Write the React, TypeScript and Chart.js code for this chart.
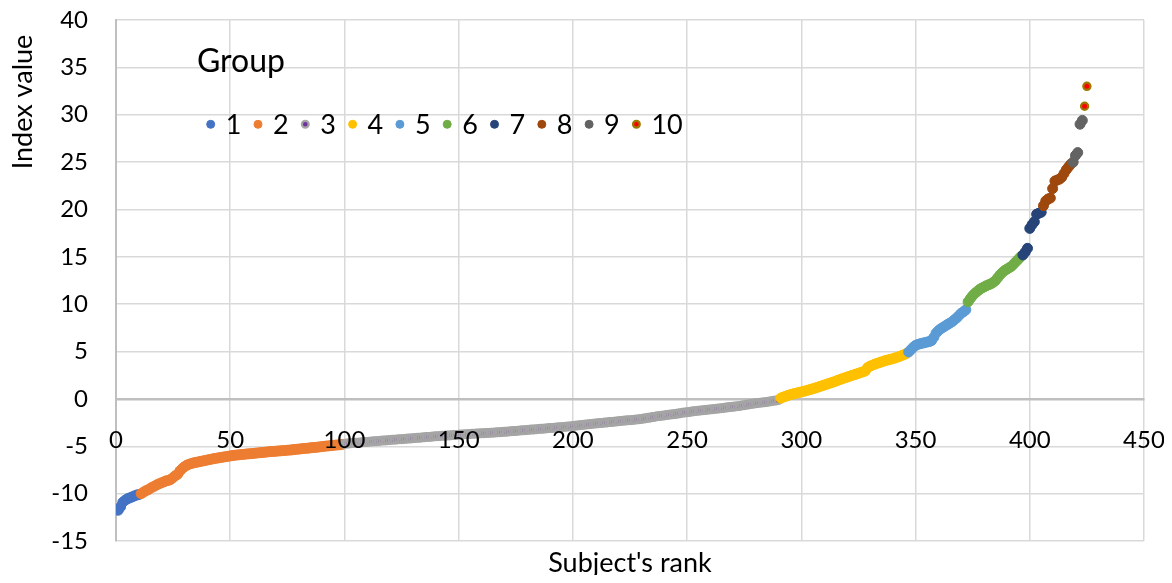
import React, { useEffect, useRef } from "react";
import { Chart, registerables } from "chart.js";

Chart.register(...registerables);

const FONT = "Lato, 'Open Sans', sans-serif";

const xAxisTitle = "Subject's rank";
const yAxisTitle = "Index value";
const legendTitle = "Group";
const groupLabels = ["1", "2", "3", "4", "5", "6", "7", "8", "9", "10"];
const xTickValues = [0, 50, 100, 150, 200, 250, 300, 350, 400, 450];
const yTickValues = [-15, -10, -5, 0, 5, 10, 15, 20, 25, 30, 35, 40];

const group1Values = [-11.75, -11.4, -10.9, -10.7, -10.55, -10.45, -10.35, -10.25, -10.15, -10.1];
const group2Values = [
  -10.0, -9.85, -9.7, -9.6, -9.45, -9.3, -9.2, -9.05, -8.95, -8.85,
  -8.75, -8.65, -8.6, -8.5, -8.3, -8.1, -7.95, -7.6, -7.35, -7.15,
  -7.0, -6.9, -6.82, -6.75, -6.7, -6.65, -6.6, -6.55, -6.5, -6.45,
  -6.4, -6.35, -6.3, -6.26, -6.22, -6.18, -6.14, -6.1, -6.06, -6.02,
  -5.98, -5.95, -5.92, -5.9, -5.87, -5.85, -5.82, -5.8, -5.78, -5.75,
  -5.73, -5.7, -5.68, -5.66, -5.64, -5.6, -5.58, -5.56, -5.54, -5.52,
  -5.5, -5.48, -5.46, -5.44, -5.42, -5.4, -5.38, -5.35, -5.32, -5.3,
  -5.27, -5.24, -5.22, -5.2, -5.17, -5.14, -5.12, -5.1, -5.07, -5.04,
  -5.01, -4.98, -4.96, -4.93, -4.9, -4.88, -4.86, -4.84, -4.8,
];
const group3Values = [
  -4.75, -4.72, -4.7, -4.68, -4.66, -4.64, -4.62, -4.6, -4.58, -4.56,
  -4.54, -4.52, -4.5, -4.48, -4.46, -4.44, -4.42, -4.4, -4.38, -4.36,
  -4.34, -4.32, -4.3, -4.28, -4.26, -4.25, -4.23, -4.21, -4.19, -4.17,
  -4.15, -4.13, -4.11, -4.09, -4.07, -4.05, -4.03, -4.01, -3.99, -3.97,
  -3.95, -3.93, -3.91, -3.9, -3.88, -3.86, -3.85, -3.83, -3.82, -3.8,
  -3.78, -3.77, -3.75, -3.74, -3.72, -3.71, -3.69, -3.68, -3.66, -3.65,
  -3.63, -3.62, -3.6, -3.59, -3.57, -3.56, -3.54, -3.53, -3.51, -3.5,
  -3.48, -3.46, -3.44, -3.42, -3.4, -3.38, -3.36, -3.34, -3.32, -3.3,
  -3.28, -3.26, -3.24, -3.22, -3.2, -3.18, -3.16, -3.14, -3.12, -3.1,
  -3.08, -3.06, -3.04, -3.02, -3.0, -2.98, -2.96, -2.94, -2.92, -2.9,
  -2.87, -2.84, -2.81, -2.78, -2.76, -2.73, -2.7, -2.68, -2.65, -2.62,
  -2.6, -2.58, -2.55, -2.53, -2.5, -2.48, -2.45, -2.43, -2.4, -2.38,
  -2.36, -2.34, -2.31, -2.29, -2.26, -2.24, -2.22, -2.2, -2.17, -2.14,
  -2.11, -2.08, -2.04, -2.0, -1.96, -1.92, -1.88, -1.84, -1.8, -1.77,
  -1.74, -1.71, -1.68, -1.64, -1.61, -1.58, -1.55, -1.51, -1.47, -1.43,
  -1.4, -1.37, -1.34, -1.31, -1.28, -1.25, -1.22, -1.2, -1.17, -1.14,
  -1.11, -1.09, -1.06, -1.03, -1.0, -0.98, -0.95, -0.92, -0.89, -0.86,
  -0.84, -0.81, -0.78, -0.74, -0.7, -0.66, -0.62, -0.58, -0.54, -0.5,
  -0.47, -0.44, -0.41, -0.38, -0.35, -0.32, -0.28, -0.24, -0.2, -0.16,
  -0.12,
];
const group4Values = [
  0.08, 0.18, 0.27, 0.35, 0.43, 0.5, 0.56, 0.62, 0.68, 0.74,
  0.8, 0.86, 0.93, 1.0, 1.07, 1.14, 1.22, 1.3, 1.38, 1.46,
  1.54, 1.62, 1.7, 1.78, 1.87, 1.96, 2.05, 2.14, 2.22, 2.3,
  2.38, 2.46, 2.54, 2.62, 2.7, 2.78, 2.86, 2.95, 3.3, 3.45,
  3.55, 3.65, 3.74, 3.82, 3.9, 3.98, 4.06, 4.12, 4.18, 4.24,
  4.32, 4.4, 4.48, 4.58, 4.68, 4.8,
];
const group5Values = [
  4.95, 5.2, 5.45, 5.65, 5.75, 5.82, 5.88, 5.94, 6.0, 6.05,
  6.15, 6.5, 6.95, 7.2, 7.4, 7.55, 7.7, 7.85, 8.0, 8.15,
  8.35, 8.55, 8.8, 9.05, 9.2, 9.4,
];
const group6Values = [
  10.25, 10.6, 10.9, 11.15, 11.35, 11.55, 11.7, 11.82, 11.95, 12.05,
  12.15, 12.3, 12.5, 12.8, 13.1, 13.35, 13.55, 13.7, 13.85, 14.0,
  14.25, 14.5, 14.75, 15.0,
];
const group7Values = [15.2, 15.5, 15.9, 18.0, 18.4, 18.7, 19.5, 19.6, 19.7];
const group8Values = [20.4, 20.9, 21.1, 21.2, 22.2, 23.0, 23.1, 23.2, 23.4, 23.8, 24.2, 24.5, 24.8];
const group9Values = [25.0, 25.7, 26.0, 29.0, 29.4];
const group10Values = [30.9, 33.0];

const groupValues = [
  group1Values, group2Values, group3Values, group4Values, group5Values,
  group6Values, group7Values, group8Values, group9Values, group10Values,
];

const groupFill = ["#4472C4", "#ED7D31", "#7030A0", "#FFC000", "#5B9BD5", "#70AD47", "#264478", "#9E480E", "#636363", "#FF0000"];
const groupBorder = ["#4472C4", "#ED7D31", "#A5A5A5", "#FFC000", "#5B9BD5", "#70AD47", "#264478", "#9E480E", "#636363", "#9C7A00"];
const groupRadius = [5, 5, 3.8, 5, 5, 5, 5, 5, 5, 3.6];
const groupBorderWidth = [1, 1, 2.4, 1, 1, 1, 1, 1, 1, 2.2];

const overlayPlugin = {
  id: "overlayTexts",
  afterDraw(chart: any) {
    const ctx = chart.ctx as CanvasRenderingContext2D;
    const area = chart.chartArea;
    ctx.save();
    ctx.fillStyle = "#000";
    ctx.textBaseline = "middle";

    // x axis title
    ctx.font = `27px ${FONT}`;
    ctx.textAlign = "center";
    ctx.fillText(xAxisTitle, (area.left + area.right) / 2, area.bottom + 22);

    // y axis title
    ctx.save();
    ctx.translate(15, 94);
    ctx.rotate(-Math.PI / 2);
    ctx.fillText(yAxisTitle, 0, 0);
    ctx.restore();

    // legend
    ctx.textAlign = "left";
    ctx.font = `32px ${FONT}`;
    ctx.fillText(legendTitle, 189, 54);
    ctx.font = `27px ${FONT}`;
    groupLabels.forEach((lab, i) => {
      const cx = 202.7 + 47.3 * i;
      const cy = 116.3;
      const special = i === 2 || i === 9;
      const r = special ? 3.4 : 4;
      ctx.beginPath();
      ctx.arc(cx, cy, r, 0, Math.PI * 2);
      ctx.fillStyle = groupFill[i];
      ctx.fill();
      ctx.lineWidth = special ? 2.2 : 1;
      ctx.strokeStyle = groupBorder[i];
      ctx.stroke();
      ctx.fillStyle = "#000";
      ctx.fillText(lab, cx + 15, cy + 1);
    });
    ctx.restore();
  },
};

export default function App() {
  const canvasRef = useRef<HTMLCanvasElement | null>(null);

  useEffect(() => {
    if (!canvasRef.current) return;
    let offset = 0;
    const datasets = groupValues.map((vals, g) => {
      const start = offset;
      offset += vals.length;
      return {
        label: groupLabels[g],
        data: vals.map((v, i) => ({ x: start + i + 1, y: v })),
        backgroundColor: groupFill[g],
        borderColor: groupBorder[g],
        pointRadius: groupRadius[g],
        pointBorderWidth: groupBorderWidth[g],
        pointHoverRadius: groupRadius[g],
        showLine: false,
        order: groupValues.length - g,
      };
    });

    const tickFont = { size: 24, family: FONT };

    const chart = new Chart(canvasRef.current, {
      type: "scatter",
      data: { datasets },
      plugins: [overlayPlugin],
      options: {
        responsive: false,
        animation: false,
        events: [],
        layout: { padding: { left: 0, top: 12, right: 20, bottom: 42 } },
        plugins: {
          legend: { display: false },
          tooltip: { enabled: false },
        },
        scales: {
          x: {
            type: "linear",
            min: 0,
            max: 450,
            position: { y: 0 } as any,
            afterBuildTicks: (s: any) => {
              s.ticks = xTickValues.map((value) => ({ value }));
            },
            afterFit: (s: any) => {
              s.paddingLeft = 0;
              s.paddingRight = 0;
            },
            grid: { color: "#D9D9D9", lineWidth: 1.5, drawTicks: false },
            border: { display: true, color: "#BFBFBF", width: 2.5 },
            ticks: {
              padding: 27,
              color: "#000",
              font: tickFont,
              z: 1,
              maxRotation: 0,
              autoSkip: false,
              callback: (v: any) => String(v),
            },
          },
          y: {
            type: "linear",
            min: -15,
            max: 40,
            position: "left",
            afterBuildTicks: (s: any) => {
              s.ticks = yTickValues.map((value) => ({ value }));
            },
            afterFit: (s: any) => {
              s.width = 108;
              s.paddingTop = 0;
              s.paddingBottom = 0;
            },
            grid: { color: "#D9D9D9", lineWidth: 1.5, drawTicks: false },
            border: { display: true, color: "#BFBFBF", width: 2 },
            ticks: {
              padding: 28,
              color: "#000",
              font: tickFont,
              autoSkip: false,
              callback: (v: any) => String(v),
            },
          },
        },
      } as any,
    });
    return () => chart.destroy();
  }, []);

  return (
    <div style={{ width: 1156, height: 575, marginBottom: -8 }}>
      <canvas ref={canvasRef} width={1156} height={575} style={{ display: "block" }} />
    </div>
  );
}
